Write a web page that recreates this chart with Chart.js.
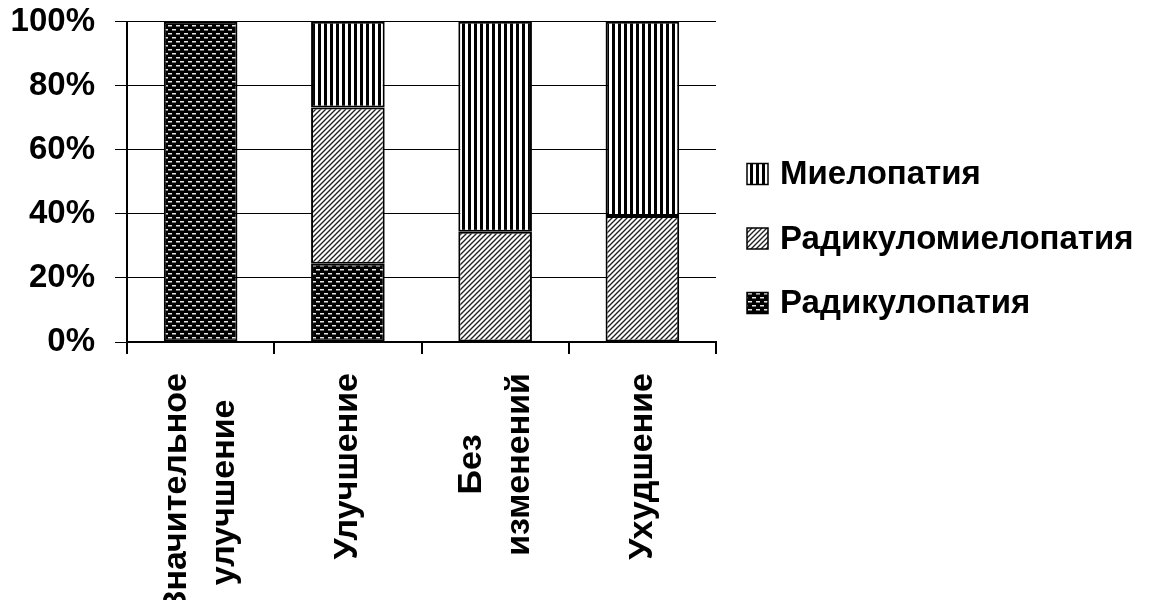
<!DOCTYPE html>
<html>
<head>
<meta charset="utf-8">
<script src="https://cdn.jsdelivr.net/npm/chart.js@4/dist/chart.umd.min.js"></script>
<style>
  body { margin: 0; background: #fff; }
</style>
</head>
<body>
<canvas id="outcomeChart" width="1153" height="600"></canvas>
<script>
// data (percent of each outcome group)
const categories = [['Значительное', 'улучшение'], ['Улучшение'], ['Без', 'изменений'], ['Ухудшение']];
const seriesNames = ['Радикулопатия', 'Радикуломиелопатия', 'Миелопатия'];
const radikulopatia = [100, 24.4, 0, 0];
const radikulomielopatia = [0, 48.8, 34.4, 39.3];
const mielopatia = [0, 26.8, 65.6, 60.7];
const yTickValues = [0, 20, 40, 60, 80, 100];

const FONT = '"Liberation Sans", Arial, sans-serif';

function makePattern(w, h, draw){
    const c = document.createElement('canvas');
    c.width = w;
    c.height = h;
    const g = c.getContext('2d');
    draw(g, w, h);
    return g.createPattern(c, 'repeat');
}

// black with small light dashes, brick layout
const dotsPattern = makePattern(8, 8, function(g, w, h){
    g.fillStyle = '#000';
    g.fillRect(0, 0, w, h);
    g.fillStyle = '#e6e6e6';
    g.fillRect(0, 1, 4, 1.5);
    g.fillRect(4, 5, 4, 1.5);
});

// thin "/" hatch on white
const hatchPattern = makePattern(5, 5, function(g, w, h){
    g.fillStyle = '#fff';
    g.fillRect(0, 0, w, h);
    g.strokeStyle = '#222';
    g.lineWidth = 1.4;
    g.beginPath();
    [-5, 0, 5].forEach(function(k){
        g.moveTo(k - 1, h + 1);
        g.lineTo(k + w + 1, -1);
    });
    g.stroke();
});

// vertical black stripes
const stripePattern = makePattern(6, 1, function(g, w, h){
    g.fillStyle = '#fff';
    g.fillRect(0, 0, w, h);
    g.fillStyle = '#000';
    g.fillRect(0, 0, 3, h);
});

// rotated, centred category labels under the axis
const xLabelsPlugin = {
    id: 'xLabels',
    afterDraw(chart){
        const ctx = chart.ctx;
        const xs = chart.scales.x;
        ctx.save();
        ctx.font = 'bold 34px ' + FONT;
        ctx.fillStyle = '#000';
        ctx.textAlign = 'center';
        ctx.textBaseline = 'middle';
        categories.forEach(function(lines, i){
            const x = xs.getPixelForTick(i);
            let w = 0;
            lines.forEach(function(l){ w = Math.max(w, ctx.measureText(l).width); });
            const cy = xs.top + 31 + w / 2;
            lines.forEach(function(l, j){
                const lx = x + (j - (lines.length - 1) / 2) * 48;
                ctx.save();
                ctx.translate(lx, cy);
                ctx.rotate(-Math.PI / 2);
                ctx.fillText(l, 0, 0);
                ctx.restore();
            });
        });
        ctx.restore();
    }
};

// legend on the right, top item is the last series
const legendPlugin = {
    id: 'sideLegend',
    afterDraw(chart){
        const ctx = chart.ctx;
        const sets = chart.data.datasets.slice().reverse();
        ctx.save();
        ctx.font = 'bold 33px ' + FONT;
        ctx.textBaseline = 'middle';
        sets.forEach(function(ds, k){
            const cy = 174 + k * 64.5;
            ctx.fillStyle = ds.backgroundColor;
            ctx.fillRect(747, cy - 10.5, 21, 21);
            ctx.strokeStyle = '#000';
            ctx.lineWidth = 1.5;
            ctx.strokeRect(747, cy - 10.5, 21, 21);
            ctx.fillStyle = '#000';
            ctx.fillText(ds.label, 780, cy + 1);
        });
        ctx.restore();
    }
};

const ctx = document.getElementById('outcomeChart');
new Chart(ctx, {
    type: 'bar',
    data: {
        labels: categories.map(function(l){ return l.join(' '); }),
        datasets: [
            { label: seriesNames[0], data: radikulopatia, backgroundColor: dotsPattern },
            { label: seriesNames[1], data: radikulomielopatia, backgroundColor: hatchPattern },
            { label: seriesNames[2], data: mielopatia, backgroundColor: stripePattern }
        ]
    },
    options: {
        responsive: false,
        animation: false,
        layout: { padding: { left: 0, top: 19, right: 437, bottom: 0 } },
        datasets: {
            bar: {
                borderColor: '#000',
                borderWidth: 2,
                borderSkipped: false,
                barPercentage: 0.5,
                categoryPercentage: 1
            }
        },
        plugins: {
            legend: { display: false },
            tooltip: { enabled: false }
        },
        scales: {
            x: {
                stacked: true,
                offset: true,
                ticks: { display: false },
                grid: { drawOnChartArea: false, offset: true, color: '#000', lineWidth: 2, tickLength: 12 },
                border: { color: '#000', width: 2 },
                afterFit(s){ s.height = 258; }
            },
            y: {
                stacked: true,
                min: 0,
                max: 100,
                afterBuildTicks(s){ s.ticks = yTickValues.map(function(v){ return { value: v }; }); },
                ticks: {
                    padding: 20,
                    color: '#000',
                    font: { family: FONT, size: 33, weight: 'bold', lineHeight: 0.1 },
                    callback: function(v){ return v + '%'; }
                },
                grid: { color: '#000', lineWidth: 1, tickLength: 12 },
                border: { color: '#000', width: 2 },
                afterFit(s){ s.width = 127; }
            }
        }
    },
    plugins: [xLabelsPlugin, legendPlugin]
});
</script>
</body>
</html>
